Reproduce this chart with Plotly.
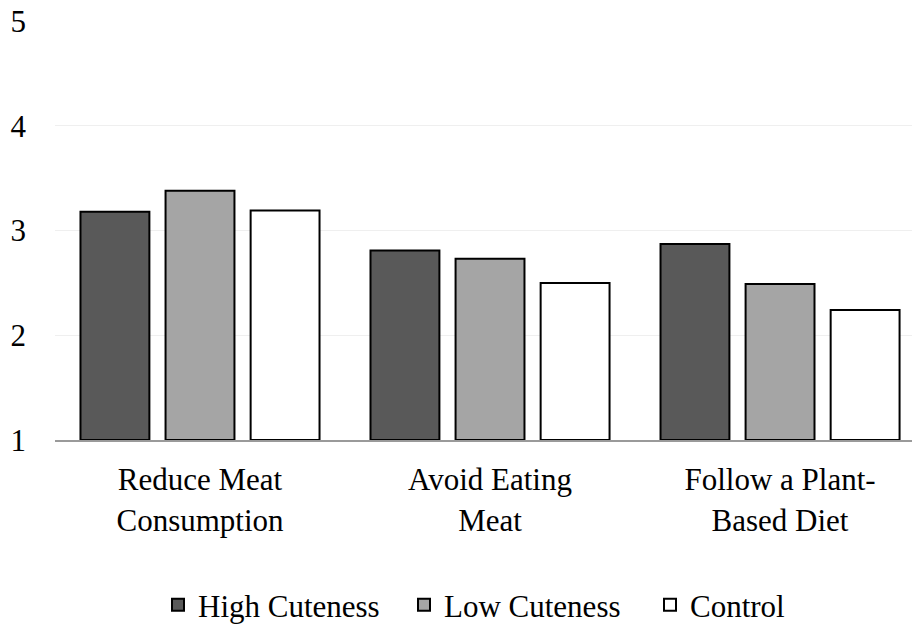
import plotly.graph_objects as go

categories = ["Reduce Meat<br>Consumption", "Avoid Eating<br>Meat", "Follow a Plant-<br>Based Diet"]
high_cuteness = [3.18, 2.81, 2.87]
low_cuteness = [3.38, 2.73, 2.49]
control = [3.19, 2.50, 2.24]
y_ticks = [1, 2, 3, 4, 5]

series = [
    ("High Cuteness", high_cuteness, "#595959"),
    ("Low Cuteness", low_cuteness, "#a5a5a5"),
    ("Control", control, "#ffffff"),
]

font_family = "Liberation Serif, Times New Roman, serif"

fig = go.Figure()
for name, vals, color in series:
    fig.add_trace(go.Bar(
        x=categories,
        y=[v - 1 for v in vals],
        base=1,
        name=name,
        marker=dict(color=color, line=dict(color="#000000", width=2)),
        hovertemplate="%{x}: %{customdata}<extra>" + name + "</extra>",
        customdata=vals,
    ))

fig.update_layout(
    width=912,
    height=626,
    margin=dict(l=55, r=0, t=21, b=186, autoexpand=False),
    paper_bgcolor="white",
    plot_bgcolor="white",
    barmode="group",
    bargap=0.12,
    bargroupgap=0.19,
    font=dict(family=font_family, color="#000000"),
    xaxis=dict(
        range=[-0.5, 2.455],
        showline=True,
        linecolor="#9a9a9a",
        linewidth=2,
        tickfont=dict(size=31, color="#000000"),
        ticks="",
        showgrid=False,
        ticklabelstandoff=11,
    ),
    yaxis=dict(
        range=[1, 5],
        tickvals=y_ticks,
        tickfont=dict(size=31, color="#000000"),
        showgrid=True,
        gridcolor="#efefef",
        gridwidth=1,
        zeroline=False,
        ticks="",
        ticklabelstandoff=28,
    ),
    legend=dict(
        orientation="h",
        xref="container",
        yref="container",
        x=158 / 912,
        xanchor="left",
        y=1 - 605 / 626,
        yanchor="middle",
        font=dict(size=31, color="#000000"),
        itemwidth=30,
        entrywidth=201,
        traceorder="normal",
    ),
)

fig.write_html("out.html")
